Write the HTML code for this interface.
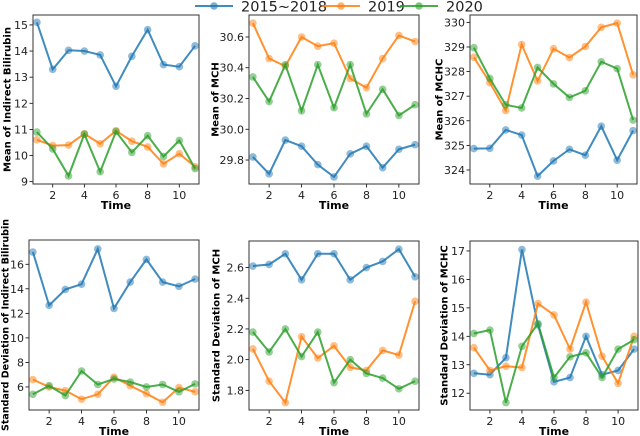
<!DOCTYPE html>
<html><head><meta charset="utf-8"><style>
body{margin:0;background:#fff;width:640px;height:436px;overflow:hidden}
svg{display:block;font-family:"DejaVu Sans","Liberation Sans",sans-serif}
</style></head><body>
<svg id="chart" width="640" height="436"></svg>
<script>
const times=[1,2,3,4,5,6,7,8,9,10,11];
const seriesNames=["2015~2018","2019","2020"];
const colors=["#1f77b4","#ff7f0e","#2ca02c"];
const p1Blue=[15.1,13.3,14.03,14.0,13.85,12.65,13.8,14.82,13.48,13.4,14.2];
const p1Orange=[10.6,10.38,10.4,10.83,10.45,10.95,10.55,10.33,9.68,10.07,9.57];
const p1Green=[10.9,10.25,9.22,10.82,9.38,10.92,10.12,10.76,9.96,10.58,9.5];
const p2Blue=[29.82,29.71,29.93,29.89,29.77,29.69,29.84,29.89,29.75,29.87,29.9];
const p2Orange=[30.69,30.46,30.41,30.6,30.54,30.56,30.33,30.27,30.46,30.61,30.57];
const p2Green=[30.34,30.18,30.42,30.12,30.42,30.14,30.42,30.1,30.26,30.09,30.16];
const p3Blue=[324.87,324.88,325.63,325.42,323.75,324.37,324.84,324.6,325.78,324.4,325.6];
const p3Orange=[328.58,327.55,326.42,329.1,327.62,328.93,328.57,329.02,329.8,329.97,327.87];
const p3Green=[328.97,327.72,326.65,326.52,328.17,327.5,326.95,327.22,328.4,328.12,326.03];
const p4Blue=[17.0,12.65,13.95,14.38,17.25,12.4,14.55,16.4,14.55,14.2,14.8];
const p4Orange=[6.6,6.0,5.7,5.0,5.4,6.8,6.1,5.45,4.75,5.95,5.6];
const p4Green=[5.4,6.1,5.3,7.3,6.2,6.65,6.4,6.0,6.2,5.6,6.25];
const p5Blue=[2.61,2.62,2.69,2.52,2.69,2.69,2.52,2.6,2.64,2.72,2.54];
const p5Orange=[2.07,1.86,1.72,2.15,2.01,2.09,1.95,1.93,2.06,2.03,2.38];
const p5Green=[2.18,2.05,2.2,2.02,2.18,1.85,2.0,1.91,1.88,1.81,1.86];
const p6Blue=[12.7,12.65,13.25,17.05,14.4,12.4,12.55,14.0,12.65,12.8,13.55];
const p6Orange=[13.6,12.8,12.95,12.9,15.15,14.75,13.55,15.2,13.3,12.35,14.0];
const p6Green=[14.1,14.22,11.67,13.65,14.45,12.55,13.28,13.42,12.55,13.55,13.88];
const xTicks=[2,4,6,8,10];
const p1Ticks=[9,10,11,12,13,14,15];
const p2Ticks=[29.8,30.0,30.2,30.4,30.6];
const p3Ticks=[324,325,326,327,328,329,330];
const p4Ticks=[6,8,10,12,14,16];
const p5Ticks=[1.8,2.0,2.2,2.4,2.6];
const p6Ticks=[12,13,14,15,16,17];
const panels=[
 {name:"mean-indirect-bilirubin",label:"Mean of Indirect Bilirubin",box:[33,15,199,184],yr:[8.91,15.38],ticks:p1Ticks,dec:0,lx:8,fs:10,tl:145,s:[p1Blue,p1Orange,p1Green]},
 {name:"mean-mch",label:"Mean of MCH",box:[249,15,419,184],yr:[29.644,30.743],ticks:p2Ticks,dec:1,lx:216,fs:10,tl:0,s:[p2Blue,p2Orange,p2Green]},
 {name:"mean-mchc",label:"Mean of MCHC",box:[470,15,637,184],yr:[323.43,330.3],ticks:p3Ticks,dec:0,lx:440,fs:10,tl:0,s:[p3Blue,p3Orange,p3Green]},
 {name:"sd-indirect-bilirubin",label:"Standard Deviation of Indirect Bilirubin",box:[29,240,199,410],yr:[4.12,17.98],ticks:p4Ticks,dec:0,lx:6,fs:10,tl:212,s:[p4Blue,p4Orange,p4Green]},
 {name:"sd-mch",label:"Standard Deviation of MCH",box:[249,241,419,410],yr:[1.672,2.773],ticks:p5Ticks,dec:1,lx:217,fs:10,tl:0,s:[p5Blue,p5Orange,p5Green]},
 {name:"sd-mchc",label:"Standard Deviation of MCHC",box:[470,241,638,410],yr:[11.41,17.35],ticks:p6Ticks,dec:0,lx:445,fs:10,tl:0,s:[p6Blue,p6Orange,p6Green]}
];
const NS="http://www.w3.org/2000/svg";
const svg=document.getElementById("chart");
function mk(tag,attrs,parent,text){const e=document.createElementNS(NS,tag);for(const k in attrs)e.setAttribute(k,attrs[k]);if(text!==undefined)e.textContent=text;(parent||svg).appendChild(e);return e;}
panels.forEach(p=>{
 const [l,t,r,b]=p.box;
 const g=mk("g",{});
 
 
 const w=r-l;
 const xs=v=>l+3.9+(v-1)*(w-7.8)/10;
 const ys=v=>b-(v-p.yr[0])/(p.yr[1]-p.yr[0])*(b-t);
 xTicks.forEach(v=>{
  mk("line",{x1:xs(v),x2:xs(v),y1:b,y2:b+3.5,stroke:"#000","stroke-width":0.8},g);
  const tx=mk("text",{x:xs(v),y:b+15,"font-size":"11","text-anchor":"middle",fill:"#222"},g,String(v));
  
  
 });
 p.ticks.forEach(v=>{
  mk("line",{x1:l-3.5,x2:l,y1:ys(v),y2:ys(v),stroke:"#000","stroke-width":0.8},g);
  const tx=mk("text",{x:l-5,y:ys(v)+4,"font-size":"11","text-anchor":"end",fill:"#222"},g,v.toFixed(p.dec));
  
  
 });
 const xt=mk("text",{x:(l+r)/2,y:b+25,"font-size":"11","font-weight":"bold","text-anchor":"middle"},g,"Time");
 
 
 const cy=(t+b)/2;
 const attrs={x:p.lx,y:cy,"font-size":p.fs,"font-weight":"bold","text-anchor":"middle",transform:`rotate(-90 ${p.lx} ${cy})`,"dominant-baseline":"central"};
 if(p.tl){attrs.textLength=p.tl;attrs.lengthAdjust="spacingAndGlyphs";}
 const yt=mk("text",attrs,g,p.label);
 
 
 p.s.forEach((arr,i)=>{
  const pts=arr.map((v,j)=>xs(times[j])+","+ys(v)).join(" ");
  const pl=mk("polyline",{points:pts,fill:"none",stroke:colors[i],"stroke-width":2,"stroke-opacity":0.85},g);
  
  
  arr.forEach((v,j)=>{
   const c=mk("circle",{cx:xs(times[j]),cy:ys(v),r:3.8,fill:colors[i],"fill-opacity":0.5},g);
   
   
  });
 });
 const fr=mk("rect",{x:l,y:t,width:w,height:b-t,fill:"none",stroke:"#333","stroke-width":1},g);
 
 
});
const legendX=[195,322,400];
const legendG=mk("g",{});


seriesNames.forEach((n,i)=>{
 const x=legendX[i];
 const e=mk("g",{},legendG);
 
 
 mk("line",{x1:x,x2:x+38,y1:6,y2:6,stroke:colors[i],"stroke-width":2,"stroke-opacity":0.85},e);
 mk("circle",{cx:x+19,cy:6,r:3.8,fill:colors[i],"fill-opacity":0.6},e);
 mk("text",{x:x+46,y:11.5,"font-size":"14.5",fill:"#222"},e,n);
});
</script>
</body></html>
